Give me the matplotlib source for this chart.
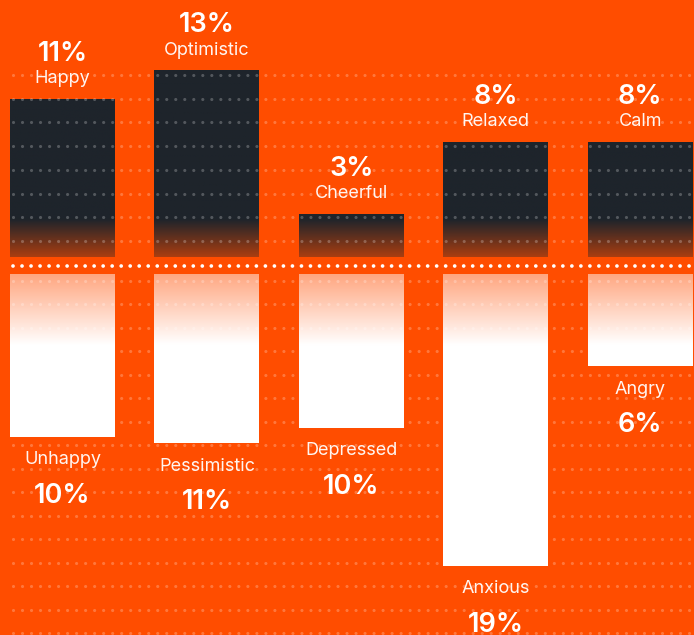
import numpy as np
import matplotlib.pyplot as plt
from matplotlib.colors import to_rgb

plt.rcParams['font.family'] = ['Inter', 'DejaVu Sans']
plt.rcParams['lines.scale_dashes'] = False

# data
up_labels = ["Happy", "Optimistic", "Cheerful", "Relaxed", "Calm"]
up_values = [11, 13, 3, 8, 8]
down_labels = ["Unhappy", "Pessimistic", "Depressed", "Anxious", "Angry"]
down_values = [10.6, 11, 10, 19, 6]
down_shown = [10, 11, 10, 19, 6]

BG = "#ff4d00"
DARK = "#1e242b"
W, H = 694, 635

def mix(c1, c2, t):
    c1, c2 = np.array(to_rgb(c1)), np.array(to_rgb(c2))
    return c1 * (1 - t[:, None]) + c2 * t[:, None]

fig = plt.figure(figsize=(W / 100, H / 100), dpi=100, facecolor=BG)

# pixel frame for the decoration (grid dots, baseline)
ov = fig.add_axes([0, 0, 1, 1], zorder=0)
ov.set_xlim(0, W)
ov.set_ylim(H, 0)
ov.axis('off')

ax_up = fig.add_axes([0, (H - 257) / H, 1, 257 / H], zorder=1)
ax_dn = fig.add_axes([0, 0, 1, (H - 274) / H], zorder=1)
for ax in (ax_up, ax_dn):
    ax.set_facecolor('none')
    ax.axis('off')

x = np.arange(len(up_labels))
width = 0.727

# upper bars: dark, fading to brown at the bottom
bars = ax_up.bar(x, up_values, width=width, color=DARK, zorder=1)
brown = mix(DARK, BG, np.array([0.62]))[0]
for b, v in zip(bars, up_values):
    n = 200
    vals = np.linspace(0, v, n)
    t = np.clip(1 - vals / 2.6, 0, 1)
    img = mix(DARK, brown, t)[:, None, :]
    im = ax_up.imshow(img, extent=(b.get_x(), b.get_x() + width, 0, v),
                      origin='lower', aspect='auto', interpolation='bilinear', zorder=1.5)
    im.set_clip_path(b)

# lower bars: white, salmon at the top
bars = ax_dn.bar(x, down_values, width=width, color='white', zorder=1)
salmon = mix('white', BG, np.array([0.5]))[0]
for b, v in zip(bars, down_values):
    n = 300
    vals = np.linspace(0, v, n)
    t = np.clip(vals / 4.6, 0, 1)
    img = mix(salmon, 'white', t)[:, None, :]
    im = ax_dn.imshow(img, extent=(b.get_x(), b.get_x() + width, v, 0),
                      origin='upper', aspect='auto', interpolation='bilinear', zorder=1.5)
    im.set_clip_path(b)

ax_up.set_xlim(-0.433, 4.373)
ax_up.set_ylim(0, 17.88)
ax_dn.set_xlim(-0.433, 4.373)
ax_dn.set_ylim(23.49, 0)

# dotted grid drawn over the bars
dots = dict(color='white', alpha=0.24, lw=2.3, linestyle=(0, (0.01, 6.48)),
            dash_capstyle='round', zorder=2, clip_on=False)
for y in 240.9 - 23.7 * np.arange(8):
    ax_up.plot([12.7, W], [y, y], transform=ov.transData, **dots)
for y in 281 + 23.47 * np.arange(16):
    ax_dn.plot([12.7, W], [y, y], transform=ov.transData, **dots)

# baseline
ov.plot([12.7, W], [265.5, 265.5], color='white', lw=2.7,
        linestyle=(0, (0.01, 6.48)), dash_capstyle='round')

# labels
for xi, lab, v in zip(x, up_labels, up_values):
    ax_up.annotate(lab, (xi, v), xytext=(0, 11.2), textcoords='offset points',
                   ha='center', va='baseline', color='white', alpha=0.95,
                   fontsize=13, fontweight='normal', zorder=3, annotation_clip=False)
    ax_up.annotate(f"{v}%", (xi, v), xytext=(0, 27.2), textcoords='offset points',
                   ha='center', va='baseline', color='white',
                   fontsize=19.5, fontweight='semibold', zorder=3, annotation_clip=False)

for xi, lab, v, s in zip(x, down_labels, down_values, down_shown):
    ax_dn.annotate(lab, (xi, v), xytext=(0, -19.8), textcoords='offset points',
                   ha='center', va='baseline', color='white', alpha=0.95,
                   fontsize=13, fontweight='normal', zorder=3, annotation_clip=False)
    ax_dn.annotate(f"{s}%", (xi, v), xytext=(0, -47.5), textcoords='offset points',
                   ha='center', va='baseline', color='white',
                   fontsize=19.5, fontweight='semibold', zorder=3, annotation_clip=False)

fig.savefig("out.png", dpi=100, facecolor=BG)
